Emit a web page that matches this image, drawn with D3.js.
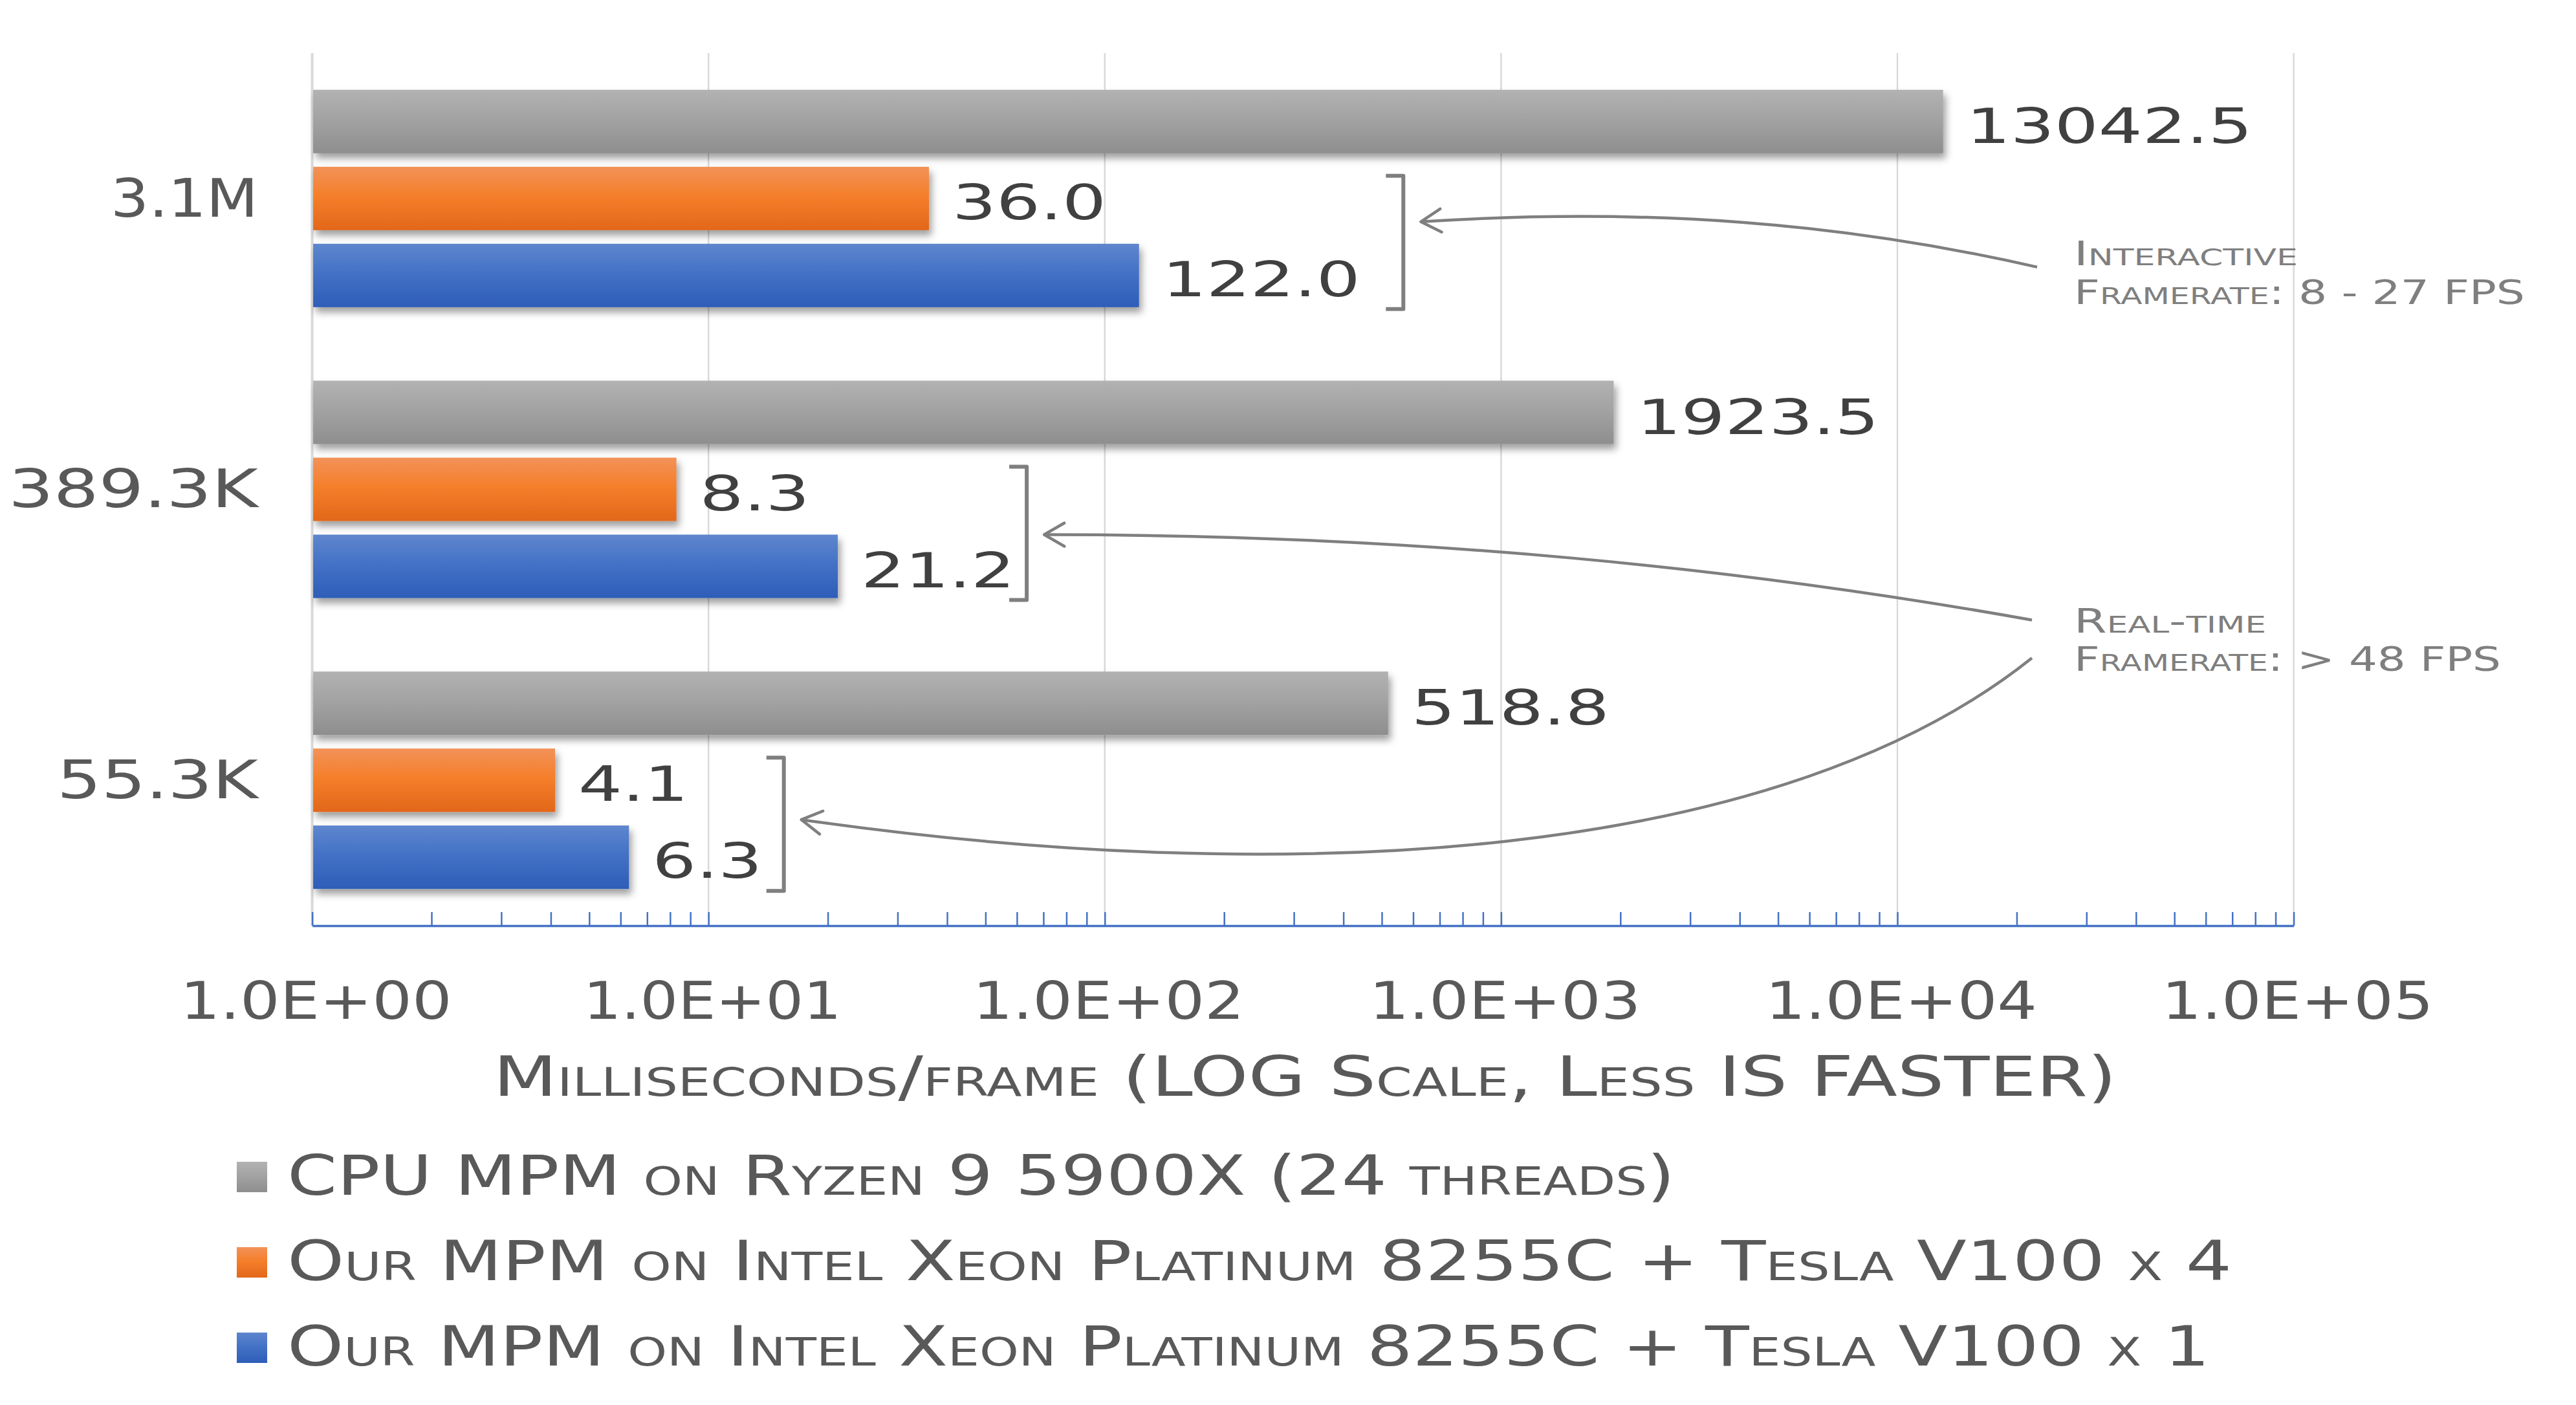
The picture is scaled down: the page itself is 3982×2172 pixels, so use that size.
<!DOCTYPE html>
<html><head><meta charset="utf-8">
<script src="https://cdn.jsdelivr.net/npm/d3@7/dist/d3.min.js"></script>
<style>
html,body{margin:0;padding:0;background:#fff;}
svg{display:block;}
text{font-family:"DejaVu Sans",sans-serif;}
.sc{font-variant:small-caps;}
</style></head><body>
<svg id="chart" width="3982" height="2172"></svg>
<script>
// ---------------- DATA ----------------
const categories = ["3.1M", "389.3K", "55.3K"];
const seriesNames = [
  "CPU MPM on Ryzen 9 5900X (24 threads)",
  "Our MPM on Intel Xeon Platinum 8255C + Tesla V100 x 4",
  "Our MPM on Intel Xeon Platinum 8255C + Tesla V100 x 1"
];
const cpuValues  = [13042.5, 1923.5, 518.8];
const gpu4Values = [36.0, 8.3, 4.1];
const gpu1Values = [122.0, 21.2, 6.3];
const valueLabels = [["13042.5","36.0","122.0"],["1923.5","8.3","21.2"],["518.8","4.1","6.3"]];
const tickValues = [1, 10, 100, 1000, 10000, 100000];
const tickLabels = ["1.0E+00", "1.0E+01", "1.0E+02", "1.0E+03", "1.0E+04", "1.0E+05"];
const axisTitle = "Milliseconds/frame (LOG Scale, Less IS FASTER)";
const noteInteractive = ["Interactive", "Framerate: 8 - 27 FPS"];
const noteRealtime = ["Real-time", "Framerate: > 48 FPS"];
// bracket position (ms, on the log axis) for each category's GPU pair
const bracketMs = [512, 57.4, 14.0];
// note text anchor (ms)
const noteMs = 27900;

// ---------------- LAYOUT ----------------
const plot = {left: 482.6, right: 3545.6, top: 82, bottom: 1431};
const colors = [
  ["#b2b2b2", "#a3a3a3", "#8e8e8e"],
  ["#f29259", "#f57f2b", "#e2671a"],
  ["#5f86ce", "#4472c6", "#2e5db8"]
];
const seriesValues = [cpuValues, gpu4Values, gpu1Values];

const svg = d3.select("#chart");
const defs = svg.append("defs");
colors.forEach((c, i) => {
  const g = defs.append("linearGradient").attr("id", "grad" + i)
    .attr("x1", 0).attr("y1", 0).attr("x2", 0).attr("y2", 1);
  g.append("stop").attr("offset", "0%").attr("stop-color", c[0]);
  g.append("stop").attr("offset", "45%").attr("stop-color", c[1]);
  g.append("stop").attr("offset", "100%").attr("stop-color", c[2]);
});
const flt = defs.append("filter").attr("id", "shadow")
  .attr("x", "-10%").attr("y", "-30%").attr("width", "130%").attr("height", "190%");
flt.append("feDropShadow").attr("dx", 4).attr("dy", 8).attr("stdDeviation", 6)
  .attr("flood-color", "#000").attr("flood-opacity", 0.38);

const x = d3.scaleLog().domain([1, 100000]).range([plot.left, plot.right]);
const y = d3.scaleBand().domain(categories).range([plot.top, plot.bottom])
  .paddingInner(0.2528).paddingOuter(0.1264);
const ySub = d3.scaleBand().domain([0, 1, 2]).range([0, y.bandwidth()])
  .paddingInner(0.1765).paddingOuter(0);

// helper to stretch text like the wide original face
function fit(node, w) {
  node.setAttribute("textLength", w);
  node.setAttribute("lengthAdjust", "spacingAndGlyphs");
}
function natural(node) { return node.getComputedTextLength(); }

// gridlines
svg.append("g").selectAll("line").data(tickValues).join("line")
  .attr("x1", d => x(d)).attr("x2", d => x(d))
  .attr("y1", plot.top).attr("y2", plot.bottom)
  .attr("stroke", "#d9d9d9").attr("stroke-width", (d, i) => i === 0 ? 4 : 2.5);

// minor ticks axis
const minor = [];
for (let k = 0; k < 5; k++) for (let m = 1; m <= 9; m++) minor.push(m * Math.pow(10, k));
minor.push(100000);
const axG = svg.append("g").attr("transform", `translate(0,${plot.bottom})`)
  .call(d3.axisBottom(x).tickValues(minor).tickSizeInner(-21).tickSizeOuter(0).tickFormat(""));
axG.select(".domain").attr("stroke", "#4472c4").attr("stroke-width", 3.5);
axG.selectAll(".tick line").attr("stroke", "#4472c4").attr("stroke-width", 2.5);

// bars
const groups = svg.append("g").selectAll("g").data(categories).join("g")
  .attr("transform", d => `translate(0,${y(d)})`);
groups.each(function(cat, ci) {
  const g = d3.select(this);
  seriesValues.forEach((vals, si) => {
    g.append("rect")
      .attr("x", x(1) + 1.5).attr("y", ySub(si))
      .attr("width", x(vals[ci]) - x(1) - 1.5).attr("height", ySub.bandwidth())
      .attr("fill", `url(#grad${si})`).attr("filter", "url(#shadow)");
  });
});

// data labels
const labelFs = 75;
const lbls = [];
groups.each(function(cat, ci) {
  const g = d3.select(this);
  seriesValues.forEach((vals, si) => {
    const t = g.append("text")
      .attr("x", x(vals[ci]) + 36)
      .attr("y", ySub(si) + ySub.bandwidth() / 2 + labelFs * 0.729 / 2 + (si === 0 ? 6 : 5))
      .attr("font-size", labelFs).attr("fill", "#404040")
      .text(valueLabels[ci][si]);
    lbls.push(t.node());
  });
});
const lblFactor = 238 / natural(lbls[1]);
lbls.forEach(n => fit(n, natural(n) * lblFactor));

// category labels
const catFs = 82;
const catW = [228, 386, 311];
svg.append("g").selectAll("text").data(categories).join("text")
  .attr("y", d => y(d) + y.bandwidth() / 2 + catFs * 0.729 / 2 - 2)
  .attr("font-size", catFs).attr("fill", "#595959").text(d => d)
  .each(function(d, i) {
    fit(this, catW[i]);
    this.setAttribute("x", 399 - catW[i]);
  });

// tick labels
const tickFs = 81;
const tickTexts = svg.append("g").selectAll("text").data(tickValues).join("text")
  .attr("y", 1575).attr("font-size", tickFs).attr("fill", "#595959")
  .text((d, i) => tickLabels[i]);
const tickFactor = 420 / natural(tickTexts.nodes()[0]);
tickTexts.each(function(d, i) {
  const w = natural(this) * tickFactor * (i === 1 ? 0.95 : 1);
  fit(this, w);
  this.setAttribute("x", x(d) + 6 - w / 2);
});

// axis title
const title = svg.append("text").attr("class", "sc").attr("y", 1694)
  .attr("font-size", 86).attr("fill", "#595959").text(axisTitle);
fit(title.node(), 2509);
title.attr("x", (plot.left + plot.right) / 2 + 3 - 2509 / 2);

// legend
const legendW = [2145, 3006, 2972];
seriesNames.forEach((name, i) => {
  const by = 1847 + i * 132;
  svg.append("rect").attr("x", 366).attr("y", by - 51).attr("width", 47).attr("height", 47)
    .attr("fill", `url(#grad${i})`);
  const t = svg.append("text").attr("class", "sc").attr("x", 444).attr("y", by)
    .attr("font-size", 86).attr("fill", "#595959").text(name);
  fit(t.node(), legendW[i]);
});

// brackets
const noteColor = "#7f7f7f";
const centers = categories.map(c => y(c) + y.bandwidth() / 2);
bracketMs.forEach((ms, i) => {
  const x0 = x(ms), x1 = x0 + 27;
  const y0 = centers[i] - 35, y1 = centers[i] + 171;
  svg.append("path")
    .attr("d", `M${x0},${y0} H${x1} V${y1} H${x0}`)
    .attr("fill", "none").attr("stroke", noteColor).attr("stroke-width", 6)
    .attr("stroke-linejoin", "round");
});

// arrows: [group, start(ms, dy), c1(ms, dy), c2(ms, dy), tip dy]
const arrows = [
  {g: 0, s: [22520, 106], c1: [7318, 38], c2: [2371, 13], t: 36},
  {g: 1, s: [21850, 202], c1: [4166, 123], c2: [636, 70], t: 70},
  {g: 2, s: [21850, -189], c1: [5027, 124], c2: [300, 170], t: 61}
];
arrows.forEach(a => {
  const cy = centers[a.g];
  const S = [x(a.s[0]), cy + a.s[1]];
  const C1 = [x(a.c1[0]), cy + a.c1[1]];
  const C2 = [x(a.c2[0]), cy + a.c2[1]];
  const T = [x(bracketMs[a.g]) + 54, cy + a.t];
  const p = d3.path();
  p.moveTo(S[0], S[1]);
  p.bezierCurveTo(C1[0], C1[1], C2[0], C2[1], T[0], T[1]);
  svg.append("path").attr("d", p.toString()).attr("fill", "none")
    .attr("stroke", noteColor).attr("stroke-width", 4.5);
  const ang = Math.atan2(C2[1] - T[1], C2[0] - T[0]);
  const L = 36, spread = Math.PI / 6;
  const w1 = [T[0] + L * Math.cos(ang - spread), T[1] + L * Math.sin(ang - spread)];
  const w2 = [T[0] + L * Math.cos(ang + spread), T[1] + L * Math.sin(ang + spread)];
  svg.append("path").attr("d", `M${w1[0]},${w1[1]} L${T[0]},${T[1]} L${w2[0]},${w2[1]}`)
    .attr("fill", "none").attr("stroke", noteColor).attr("stroke-width", 4.5)
    .attr("stroke-linejoin", "round").attr("stroke-linecap", "round");
});

// note texts
const noteFs = 51;
const noteDefs = [
  {lines: noteInteractive, g: 0, dy: [103, 163], w: [346, 697]},
  {lines: noteRealtime, g: 1, dy: [221.5, 280.5], w: [297, 660]}
];
noteDefs.forEach(nd => {
  nd.lines.forEach((ln, j) => {
    const t = svg.append("text").attr("class", "sc")
      .attr("x", x(noteMs)).attr("y", centers[nd.g] + nd.dy[j])
      .attr("font-size", noteFs).attr("fill", noteColor).text(ln);
    fit(t.node(), nd.w[j]);
  });
});
</script>
</body></html>
